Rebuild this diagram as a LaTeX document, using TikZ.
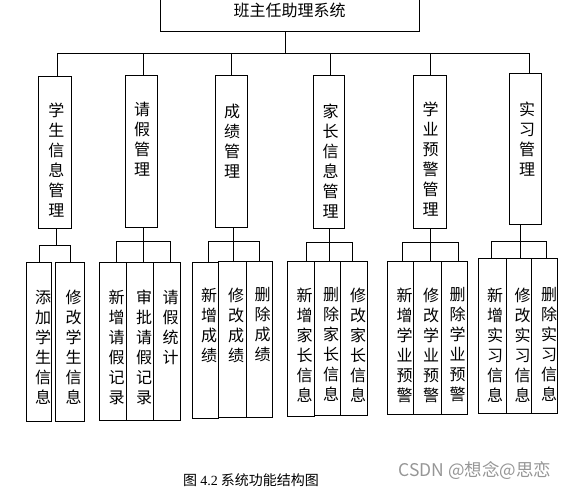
\documentclass[tikz,border=0pt]{standalone}
\usepackage{fontspec}
\setmainfont{Liberation Serif}
\newfontfamily\cjk{Noto Sans CJK SC}
\definecolor{wmgray}{RGB}{150,150,150}
\tikzset{
  box/.style={draw, line width=1pt, rectangle, inner sep=0pt, outer sep=0pt},
  vt/.style={font=\cjk\fontsize{16}{20}\selectfont, align=center, inner sep=0pt, anchor=north},
  link/.style={line width=1pt},
}
\newcommand\bx[5]{\node[box, minimum width={(#4-#2)*1pt}, minimum height={(#5-#3)*1pt}] (#1) at ({(#2+#4)/2},{(#3+#5)/2}) {};}
\newcommand\kid[2]{\draw[link] (#1) -- (#1 |- #2.north);}
\begin{document}
\begin{tikzpicture}[x=1pt,y=-1pt]
\useasboundingbox (0,0) rectangle (571,490);
\clip (0,0) rectangle (571,490);
% top
\node[box, minimum width=259pt, minimum height=41pt, font=\cjk\fontsize{16}{16}\selectfont] (top) at (289.5,10.5) {班主任助理系统};
% level 1
\bx{A}{38}{76}{71}{228}
\bx{B}{125}{75}{157}{227}
\bx{C}{215}{75}{247}{227}
\bx{D}{313}{75}{344}{228}
\bx{E}{413}{75}{446}{228}
\bx{F}{509}{73}{541}{224}
\node[vt] (tA) at (56.5,102.5) {学\\生\\信\\息\\管\\理};
\node[vt] (tB) at (142,101.5) {请\\假\\管\\理};
\node[vt] (tC) at (232,103.5) {成\\绩\\管\\理};
\node[vt] (tD) at (330.5,103.5) {家\\长\\信\\息\\管\\理};
\node[vt] (tE) at (430.5,101.5) {学\\业\\预\\警\\管\\理};
\node[vt] (tF) at (527,101.5) {实\\习\\管\\理};
% bus
\coordinate (bus) at (285.5,53);
\coordinate (bA) at (57,53);
\coordinate (bB) at (143,53);
\coordinate (bC) at (231,53);
\coordinate (bD) at (330,53);
\coordinate (bE) at (430,53);
\coordinate (bF) at (529,53);
\draw[link] (bus |- top.south) -- (bus);
\draw[link] (bA) -- (bF);
\foreach \n in {A,B,C,D,E,F}{\draw[link] (b\n) -- (b\n |- \n.north);}
% level 2 boxes
\bx{A1}{26}{262}{51}{421}
\bx{A2}{55}{262}{84}{421}
\bx{B1}{99}{262}{126}{420}
\bx{B2}{126}{262}{153}{420}
\bx{B3}{153}{262}{180}{420}
\bx{C1}{192}{262}{218}{418}
\bx{C2}{218}{261}{246}{417}
\bx{C3}{246}{261}{272}{417}
\bx{D1}{287}{261}{314}{416}
\bx{D2}{314}{261}{340}{415}
\bx{D3}{340}{261}{367}{415}
\bx{E1}{387}{261}{413}{414}
\bx{E2}{413}{261}{441}{414}
\bx{E3}{441}{261}{467}{414}
\bx{F1}{478}{258}{506}{413}
\bx{F2}{506}{258}{531}{413}
\bx{F3}{531}{258}{557}{413}
% level 2 texts
\node[vt] (tA1) at (43,289.5) {添\\加\\学\\生\\信\\息};
\node[vt] (tA2) at (73.5,289.5) {修\\改\\学\\生\\信\\息};
\node[vt] (tB1) at (116.5,289.5) {新\\增\\请\\假\\记\\录};
\node[vt] (tB2) at (144,289.5) {审\\批\\请\\假\\记\\录};
\node[vt] (tB3) at (170.5,289.5) {请\\假\\统\\计};
\node[vt] (tC1) at (209,287.5) {新\\增\\成\\绩};
\node[vt] (tC2) at (236,287.5) {修\\改\\成\\绩};
\node[vt] (tC3) at (262.5,287.5) {删\\除\\成\\绩};
\node[vt] (tD1) at (304.5,287.5) {新\\增\\家\\长\\信\\息};
\node[vt] (tD2) at (331,287.5) {删\\除\\家\\长\\信\\息};
\node[vt] (tD3) at (358,287.5) {修\\改\\家\\长\\信\\息};
\node[vt] (tE1) at (404.5,287.5) {新\\增\\学\\业\\预\\警};
\node[vt] (tE2) at (431,287.5) {修\\改\\学\\业\\预\\警};
\node[vt] (tE3) at (457.5,287.5) {删\\除\\学\\业\\预\\警};
\node[vt] (tF1) at (495,287.5) {新\\增\\实\\习\\信\\息};
\node[vt] (tF2) at (522.5,287.5) {修\\改\\实\\习\\信\\息};
\node[vt] (tF3) at (549,287.5) {删\\除\\实\\习\\信\\息};
% group A
\coordinate (gA) at (56,245); \coordinate (gA1) at (39,245); \coordinate (gA2) at (70,245);
\draw[link] (gA |- A.south) -- (gA);
\draw[link] (gA1) -- (gA2);
\kid{gA1}{A1} \kid{gA2}{A2}
% group B
\coordinate (gB) at (143,241); \coordinate (gB1) at (116,241); \coordinate (gB3) at (170,241);
\draw[link] (gB |- B.south) -- (gB);
\draw[link] (gB1) -- (gB3);
\kid{gB1}{B1} \kid{gB}{B2} \kid{gB3}{B3}
% group C
\coordinate (gC) at (233,241); \coordinate (gC1) at (208,241); \coordinate (gC3) at (259,241);
\draw[link] (gC |- C.south) -- (gC);
\draw[link] (gC1) -- (gC3);
\kid{gC1}{C1} \kid{gC}{C2} \kid{gC3}{C3}
% group D
\coordinate (gD) at (329,242); \coordinate (gD1) at (306,242); \coordinate (gD3) at (352,242);
\draw[link] (gD |- D.south) -- (gD);
\draw[link] (gD1) -- (gD3);
\kid{gD1}{D1} \kid{gD}{D2} \kid{gD3}{D3}
% group E
\coordinate (gE) at (430,242); \coordinate (gE1) at (402,242); \coordinate (gE3) at (458,242);
\draw[link] (gE |- E.south) -- (gE);
\draw[link] (gE1) -- (gE3);
\kid{gE1}{E1} \kid{gE}{E2} \kid{gE3}{E3}
% group F
\coordinate (gF) at (520,241); \coordinate (gF1) at (491,241); \coordinate (gF3) at (546,241);
\draw[link] (gF |- F.south) -- (gF);
\draw[link] (gF1) -- (gF3);
\kid{gF1}{F1} \kid{gF}{F2} \kid{gF3}{F3}
% caption and watermark
\node[font=\cjk\fontsize{14}{14}\selectfont, inner sep=0pt] (cap) at (251,480) {图 {\rmfamily 4.2} 系统功能结构图};
\node[font=\cjk\fontsize{17.5}{17.5}\selectfont, text=wmgray, inner sep=0pt] (wm) at (475,471) {CSDN @想念@思恋};
\end{tikzpicture}
\end{document}
